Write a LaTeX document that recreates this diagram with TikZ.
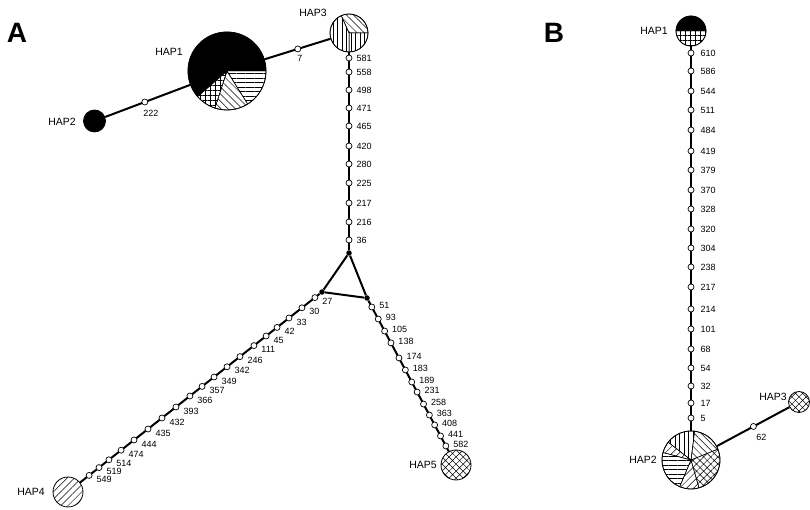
\documentclass[tikz,border=0pt]{standalone}
\usepackage{fontspec}
\setmainfont{Liberation Sans}
\usetikzlibrary{calc,patterns.meta}
\newcommand{\pieslice}[5]{\filldraw[line width=0.5pt,#5] (#1) -- ++(#2:#4pt) arc[start angle=#2, end angle=#3, radius=#4pt] -- cycle;}
\tikzset{
  hap/.style={circle, draw, line width=0.8pt, inner sep=0pt},
  mut/.style={circle, draw, fill=white, inner sep=0pt, minimum size=6pt, line width=0.7pt},
  med/.style={circle, fill=black, inner sep=0pt, minimum size=5.5pt},
  edge/.style={line width=2pt},
  num/.style={font=\fontsize{9}{10}\selectfont, inner sep=0pt},
  haplbl/.style={font=\fontsize{10.5}{12}\selectfont, inner sep=0pt},
  panel/.style={font=\bfseries\fontsize{28}{30}\selectfont, inner sep=0pt},
  hl/.style={pattern={Lines[angle=0,distance=4.5pt,line width=0.5pt]}},
  vl/.style={pattern={Lines[angle=90,distance=4.5pt,line width=0.5pt]}},
  nel/.style={pattern={Lines[angle=45,distance=5pt,line width=0.5pt]}},
  nwl/.style={pattern={Lines[angle=-45,distance=5pt,line width=0.5pt]}},
  gridp/.style={pattern={Hatch[angle=0,distance=5pt,line width=0.5pt]}},
  xhatch/.style={pattern={Hatch[angle=45,distance=5pt,line width=0.5pt]}},
  blk/.style={fill=black}
}
\begin{document}
\begin{tikzpicture}[x=1pt,y=1pt]
\useasboundingbox (0,0) rectangle (810,510);
% ---------- panel A ----------
\node[panel] (lblA) at (17,477) {A};
\coordinate (cA1) at (227,439);
\coordinate (cA2) at (94.5,389);
\coordinate (cA3) at (349,477);
\coordinate (cA4) at (68,18);
\coordinate (cA5) at (456,45);
\coordinate (cV1) at (349,257);
\coordinate (cV2) at (322,218);
\coordinate (cV3) at (367,212);
% pies
\pieslice{cA1}{0}{221}{39}{blk}
\pieslice{cA1}{221}{252}{39}{gridp}
\pieslice{cA1}{252}{302}{39}{nwl}
\pieslice{cA1}{302}{360}{39}{hl}
\pieslice{cA3}{0}{114}{19}{nwl}
\pieslice{cA3}{114}{270}{19}{vl}
\pieslice{cA3}{270}{360}{19}{vl}
% haplotype nodes
\node[hap, minimum size=78pt] (hapA1) at (cA1) {};
\node[hap, minimum size=22pt, fill=black] (hapA2) at (cA2) {};
\node[hap, minimum size=38pt] (hapA3) at (cA3) {};
\node[hap, minimum size=30pt, nel] (hapA4) at (cA4) {};
\node[hap, minimum size=30pt, xhatch] (hapA5) at (cA5) {};
\node[haplbl] (tA1) at (169,458) {HAP1};
\node[haplbl] (tA2) at (62,388) {HAP2};
\node[haplbl] (tA3) at (313,497) {HAP3};
\node[haplbl] (tA4) at (31,18) {HAP4};
\node[haplbl] (tA5) at (423,45) {HAP5};
% median vectors
\node[med] (vA1) at (cV1) {};
\node[med] (vA2) at (cV2) {};
\node[med] (vA3) at (cV3) {};
% edges
\draw[edge] (hapA2) -- (hapA1);
\draw[edge] (hapA1) -- (hapA3);
\draw[edge] (hapA3) -- (vA1);
\draw[edge] (vA1) -- (vA2);
\draw[edge] (vA2) -- (vA3);
\draw[edge] (vA3) -- (vA1);
\draw[edge] (vA2) -- (hapA4);
\draw[edge] (vA3) -- (hapA5);
% mutations
\node[mut, label={[num,label distance=5pt,xshift=6pt]below:222}] (m222) at ($(cA2)!0.38!(cA1)$) {};
\node[mut, label={[num,label distance=3pt,xshift=2pt]below:7}] (m7) at ($(cA1)!0.58!(cA3)$) {};
\foreach \yy/\n in {452/581,438/558,420/498,402/471,384/465,364/420,346/280,327/225,307/217,288/216,270/36}
  \node[mut, label={[num,xshift=4pt]east:\n}] (mV\n) at (349,\yy) {};
\foreach \t/\n in {0.028/27,0.079/30,0.130/33,0.177/42,0.220/45,0.268/111,0.323/246,0.374/342,0.425/349,0.472/357,0.520/366,0.575/393,0.630/432,0.685/435,0.740/444,0.791/474,0.839/514,0.878/519,0.917/549}
  \node[mut, label={[num,xshift=4pt,yshift=-4pt]east:\n}] (mL\n) at ($(cV2)!\t!(cA4)$) {};
\foreach \t/\n in {0.054/51,0.126/93,0.198/105,0.269/138,0.359/174,0.431/183,0.503/189,0.563/231,0.635/258,0.701/363,0.760/408,0.826/441,0.886/582}
  \node[mut, label={[num,xshift=4pt,yshift=1.5pt]east:\n}] (mR\n) at ($(cV3)!\t!(cA5)$) {};
% ---------- panel B ----------
\node[panel] (lblB) at (554,477) {B};
\coordinate (cB1) at (691,479);
\coordinate (cB2) at (691,50);
\coordinate (cB3) at (799,108);
\pieslice{cB1}{0}{180}{15}{blk}
\pieslice{cB1}{180}{360}{15}{gridp}
\pieslice{cB2}{22}{83}{29}{nwl}
\pieslice{cB2}{83}{142}{29}{vl}
\pieslice{cB2}{142}{165}{29}{nel}
\pieslice{cB2}{165}{247}{29}{hl}
\pieslice{cB2}{247}{286}{29}{nel}
\pieslice{cB2}{286}{382}{29}{xhatch}
\node[hap, minimum size=30pt] (hapB1) at (cB1) {};
\node[hap, minimum size=58pt] (hapB2) at (cB2) {};
\node[hap, minimum size=21pt, xhatch] (hapB3) at (cB3) {};
\node[haplbl] (tB1) at (654,479) {HAP1};
\node[haplbl] (tB2) at (643,50) {HAP2};
\node[haplbl] (tB3) at (773,113) {HAP3};
\draw[edge] (hapB1) -- (hapB2);
\draw[edge] (hapB2) -- (hapB3);
\foreach \yy/\n in {457/610,439/586,419/544,400/511,380/484,359/419,340/379,320/370,301/328,281/320,262/304,243/238,223/217,201/214,181/101,161/68,142/54,124/32,107/17,92/5}
  \node[mut, label={[num,xshift=6pt]east:\n}] (mB\n) at (691,\yy) {};
\node[mut, label={[num,label distance=4pt,xshift=8pt]below:62}] (m62) at ($(cB2)!0.578!(cB3)$) {};
\end{tikzpicture}
\end{document}
